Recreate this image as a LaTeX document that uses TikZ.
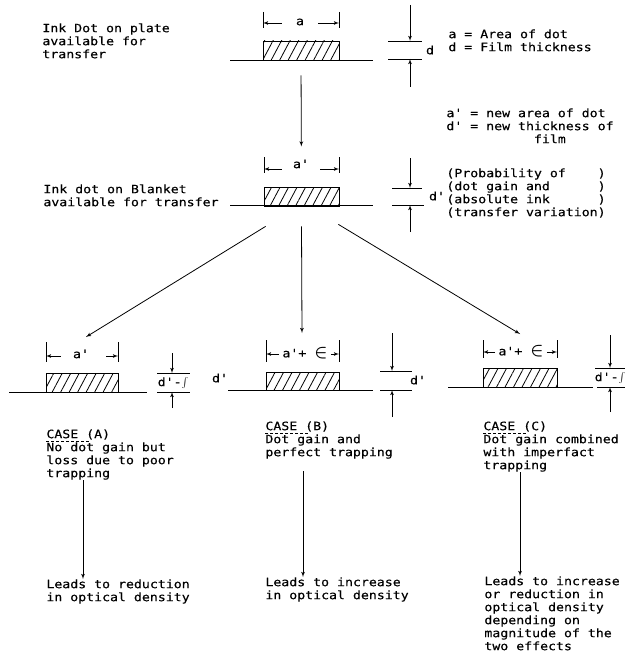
\documentclass[tikz,border=0pt]{standalone}
\usepackage{fontspec}
\newfontfamily\dotfont[FakeStretch=1.15,FakeBold=0.3]{DejaVu Sans Mono}
\usetikzlibrary{arrows,patterns.meta,positioning}

\begin{document}
\begin{tikzpicture}[x=1pt,y=-1pt,line width=.8pt,>=latex']
\tikzstyle{every node}=[inner sep=0pt, font=\dotfont\fontsize{11.5}{13}\selectfont]
\tikzstyle{txt}=[anchor=north west, align=left]
\tikzstyle{inkdot}=[draw, minimum height=19pt, pattern={Lines[angle=62,distance=7.5pt,line width=.8pt]}]
\newcommand{\epsgain}{{\fontsize{16}{16}\selectfont\boldmath$\in$}}
\useasboundingbox (0,0) rectangle (625,666);

% plate
\node (platetxt) [txt] at (42,23) {Ink Dot on plate\\available for\\transfer};
\node (plate) [inkdot, minimum width=76pt] at (301,50.5) {};
\draw (230,60) -- (373,60);
\node (lbla) at (300,22) {a};
\draw (263,12) -- (263,28) (339,12) -- (339,28);
\coordinate (aL) at (263,23);
\coordinate (aR) at (339,23);
\draw[->, shorten <=14pt] (lbla.west |- aL) -- (aL);
\draw[->, shorten <=14pt] (lbla.east |- aR) -- (aR);
\draw (388,41) -- (422,41) (388,59) -- (422,59);
\coordinate (dT) at (410,41);
\coordinate (dB) at (410,59);
\draw[->] (410,5) -- (dT);
\draw[->] (410,87) -- (dB);
\node (lbld) at (430,50) {d};
\node (key1) [txt] at (448,29) {a = Area of dot\\d = Film thickness};
\node (key2) [txt] at (446,108) {a' = new area of dot\\d' = new thickness of\\\hphantom{d' = new th}film};

% blanket
\node (blankettxt) [txt] at (43,184) {Ink dot on Blanket\\available for transfer};
\node (blanket) [inkdot, minimum width=75pt] at (301.5,196.5) {};
\draw (230,205) -- (373,205);
\draw[->, shorten <=15pt, shorten >=40pt] (plate.south) -- (blanket.north);
\node (lblb) at (301,164) {a'};
\draw (264,157) -- (264,173) (339,157) -- (339,173);
\coordinate (bL) at (264,169);
\coordinate (bR) at (339,169);
\draw[->, shorten <=11pt] (lblb.west |- bL) -- (bL);
\draw[->, shorten <=11pt] (lblb.east |- bR) -- (bR);
\draw (392,188) -- (422,188) (392,205) -- (424,205);
\coordinate (eT) at (410,188);
\coordinate (eB) at (410,205);
\draw[->] (410,158) -- (eT);
\draw[->] (410,232) -- (eB);
\node (lble) at (437,196) {d'};
\node (key3) [txt] at (446,168) {(Probability of~~~~)\\(dot gain and~~~~~~)\\(absolute ink~~~~~~)\\(transfer variation)};

% the three cases
\coordinate (tipA) at (86,337);
\coordinate (tipB) at (302,333);
\coordinate (tipC) at (520,334);
\draw[->] ([shift={(2,20)}]blanket.south west) -- (tipA);
\draw[->] ([shift={(0,20)}]blanket.south) -- (tipB);
\draw[->] ([shift={(-1,18)}]blanket.south east) -- (tipC);

% case A
\node (dotA) [inkdot, minimum width=72pt] at (82,382.5) {};
\draw (9,392) -- (147,392);
\node (lblA) at (81,354) {a'};
\draw (46,342) -- (46,362) (118,342) -- (118,362);
\coordinate (AL) at (46,356);
\coordinate (AR) at (118,356);
\draw[->, shorten <=12pt] (lblA.west |- AL) -- (AL);
\draw[->, shorten <=17pt] (lblA.east |- AR) -- (AR);
\draw (157,373) -- (190,373) (157,392) -- (190,392);
\draw[->] (172,353) -- (172,373);
\draw[->] (172,408) -- (172,392);
\node (dimA) at (173,383) {d'-$\int$};
\node (caseA) [txt] at (46,429) {CASE (A)};
\draw[dashed, dash pattern=on 3pt off 2pt] ([yshift=-1pt]caseA.south west) -- ++(44,0);
\node (textA) [txt, below=2pt of caseA.south west, anchor=north west] {No dot gain but\\loss due to poor\\trapping};
\node (leadA) [txt] at (46,579) {Leads to reduction\\in optical density};
\draw[->] ([xshift=37pt]textA.south west) -- ([xshift=37pt]textA.south west |- leadA.north);

% case B
\node (dotB) [inkdot, minimum width=73pt, minimum height=18pt] at (302.5,381) {};
\draw (228,390) -- (373,390);
\node (dl) at (220,378) {d'};
\node (lblB) at (305,353) {a'+~\epsgain};
\draw (266,340) -- (266,362) (339,340) -- (339,362);
\coordinate (BL) at (266,354);
\coordinate (BR) at (339,354);
\draw[->, shorten <=3pt] (lblB.west |- BL) -- (BL);
\draw[->, shorten <=3pt] (lblB.east |- BR) -- (BR);
\draw (380,371) -- (412,371) (380,390) -- (412,390);
\draw[->] (392,333) -- (392,371);
\draw[->] (392,417) -- (392,390);
\node (dr) at (418,380) {d'};
\node (caseB) [txt] at (265,421) {CASE (B)};
\draw[dashed, dash pattern=on 3pt off 2pt] ([yshift=-1pt]caseB.south west) -- ++(44,0);
\node (textB) [txt, below=2pt of caseB.south west, anchor=north west] {Dot gain and\\perfect trapping};
\node (leadB) [txt] at (265,577) {Leads to increase\\in optical density};
\draw[->, shorten <=12pt] ([xshift=38pt]textB.south west) -- ([xshift=38pt]textB.south west |- leadB.north);

% case C
\node (dotC) [inkdot, minimum width=74pt] at (520,377.5) {};
\draw (448,387) -- (593,387);
\node (lblC) at (521,351) {a'+~\epsgain};
\draw (483,340) -- (483,358) (557,340) -- (557,358);
\coordinate (CL) at (483,352);
\coordinate (CR) at (557,352);
\draw[->, shorten <=3pt] (lblC.west |- CL) -- (CL);
\draw[->, shorten <=3pt] (lblC.east |- CR) -- (CR);
\draw (595,368) -- (625,368) (597,387) -- (625,387);
\draw[->] (610,335) -- (610,368);
\draw[->] (610,412) -- (610,387);
\node (dimC) at (610,378) {d'-$\int$};
\node (caseC) [txt] at (483,421) {CASE (C)};
\draw[dashed, dash pattern=on 3pt off 2pt] ([yshift=-1pt]caseC.south west) -- ++(44,0);
\node (textC) [txt, below=2pt of caseC.south west, anchor=north west] {Dot gain combined\\with imperfact\\trapping};
\node (leadC) [txt] at (484,576) {Leads to increase\\or reduction in\\optical density\\depending on\\magnitude of the\\two effects};
\draw[->] ([xshift=37pt]textC.south west) -- ([xshift=37pt]textC.south west |- leadC.north);
\end{tikzpicture}
\end{document}
